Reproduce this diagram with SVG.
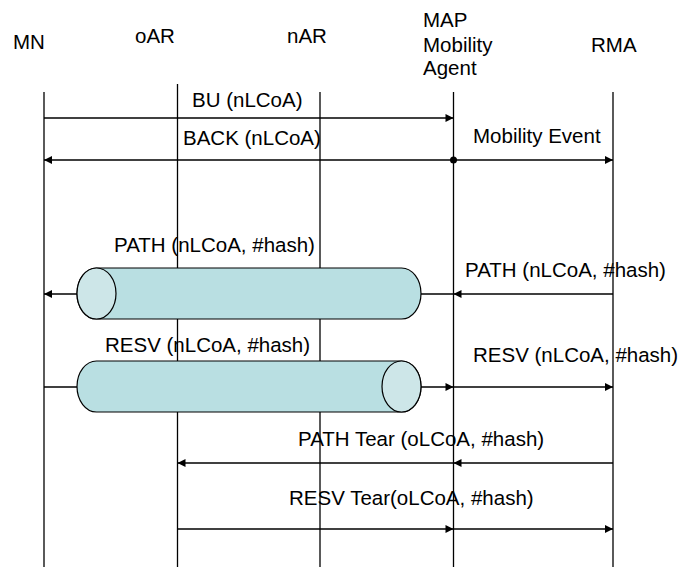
<svg xmlns="http://www.w3.org/2000/svg" width="680" height="567" viewBox="0 0 680 567">
<defs>
<style>
text{font-family:"Liberation Sans",Arial,sans-serif;font-size:20.5px;fill:#000}
.life{stroke:#000;stroke-width:1.3;fill:none}
.msg{stroke:#000;stroke-width:1.6;fill:none}
.body{fill:#b9dfe2;stroke:#000;stroke-width:1.2}
.cap{fill:#cde6e8;stroke:#000;stroke-width:1.2}
</style>
<marker id="ah" viewBox="0 0 10 10" refX="10" refY="5" markerWidth="9" markerHeight="8" markerUnits="userSpaceOnUse" orient="auto">
<path d="M0,0 L10,5 L0,10 Z" fill="#000"/>
</marker>
</defs>
<rect width="680" height="567" fill="#fff"/>
<g id="MN"><text x="13" y="49">MN</text><line class="life" x1="44" y1="92" x2="44" y2="567"/></g>
<g id="oAR"><text x="135" y="43">oAR</text><line class="life" x1="177.5" y1="84" x2="177.5" y2="567"/></g>
<g id="nAR"><text x="287" y="43">nAR</text><line class="life" x1="320" y1="92" x2="320" y2="567"/></g>
<g id="MAP"><text x="423" y="27">MAP</text><text x="423" y="52">Mobility</text><text x="423" y="75">Agent</text><line class="life" x1="453.5" y1="92" x2="453.5" y2="567"/></g>
<g id="RMA"><text x="591" y="52">RMA</text><line class="life" x1="613" y1="92" x2="613" y2="567"/></g>
<g id="connectors">
<line class="msg" x1="44" y1="118" x2="453.5" y2="118" marker-end="url(#ah)"/>
<text x="192" y="107">BU (nLCoA)</text>
<line class="msg" x1="453.5" y1="160" x2="44" y2="160" marker-end="url(#ah)"/>
<line class="msg" x1="453.5" y1="160" x2="613" y2="160" marker-end="url(#ah)"/>
<circle cx="453.5" cy="160" r="3.5" fill="#000"/>
<text x="183" y="145">BACK (nLCoA)</text>
<text x="473" y="143">Mobility Event</text>
<line class="msg" x1="613" y1="294" x2="453.5" y2="294" marker-end="url(#ah)"/>
<line class="msg" x1="453.5" y1="294" x2="421" y2="294"/>
<line class="msg" x1="77" y1="294" x2="44" y2="294" marker-end="url(#ah)"/>
<text x="465" y="277">PATH (nLCoA, #hash)</text>
<line class="msg" x1="44" y1="387" x2="77" y2="387"/>
<line class="msg" x1="421" y1="387" x2="453.5" y2="387" marker-end="url(#ah)"/>
<line class="msg" x1="453.5" y1="387" x2="613" y2="387" marker-end="url(#ah)"/>
<text x="473" y="362">RESV (nLCoA, #hash)</text>
<line class="msg" x1="613" y1="463" x2="453.5" y2="463" marker-end="url(#ah)"/>
<line class="msg" x1="453.5" y1="463" x2="177.5" y2="463" marker-end="url(#ah)"/>
<text x="298" y="446">PATH Tear (oLCoA, #hash)</text>
<line class="msg" x1="177.5" y1="529" x2="453.5" y2="529" marker-end="url(#ah)"/>
<line class="msg" x1="453.5" y1="529" x2="613" y2="529" marker-end="url(#ah)"/>
<text x="289" y="505">RESV Tear(oLCoA, #hash)</text>
</g>
<g id="pathTunnel">
<path class="body" d="M96.5,268 H401.5 A19.5,25.5 0 0 1 401.5,319 H96.5 A19.5,25.5 0 0 1 96.5,268 Z"/>
<ellipse class="cap" cx="96.5" cy="293.5" rx="19.5" ry="25.5"/>
<text x="114" y="252">PATH (nLCoA, #hash)</text>
</g>
<g id="resvTunnel">
<path class="body" d="M96.5,361 H401.5 A19.5,25.5 0 0 1 401.5,412 H96.5 A19.5,25.5 0 0 1 96.5,361 Z"/>
<ellipse class="cap" cx="401.5" cy="386.5" rx="19.5" ry="25.5"/>
<text x="105" y="352">RESV (nLCoA, #hash)</text>
</g>
</svg>
